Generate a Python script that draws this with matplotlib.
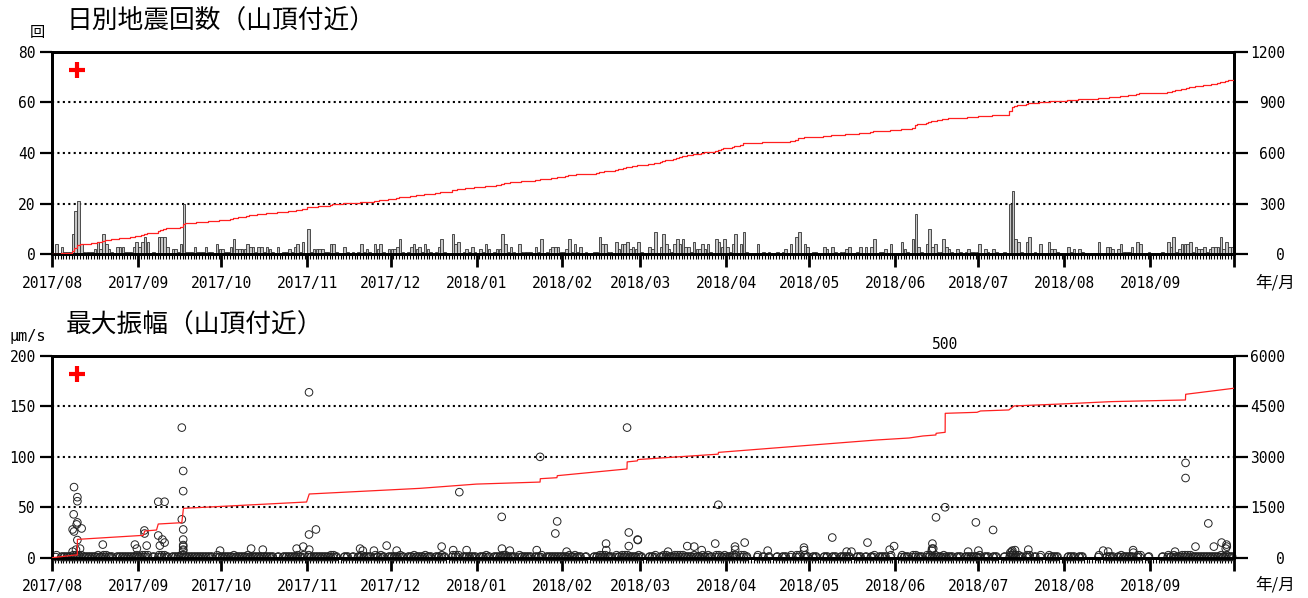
import numpy as np
import pandas as pd
import matplotlib
matplotlib.use('Agg')
import matplotlib.pyplot as plt
import matplotlib.dates as mdates
from matplotlib.ticker import FuncFormatter

# ---------------- data ----------------
aug17 = [0,4,0,3,1,1,1,8,17,21, 4,1,1,1,1,2,5,2,8,4, 2,1,0,3,3,3,1,1,1,3, 5]
sep17 = [3,5,7,5,0,1,0,7,7,7, 3,0,2,2,1,4,20,1,1,1, 3,1,1,1,3,1,1,0,4,2]
oct17 = [2,1,1,3,6,2,2,2,2,4, 3,3,1,3,3,1,3,2,1,0, 3,0,1,1,2,1,3,4,1,5, 0]
nov17 = [10,1,2,2,2,2,1,1,4,4, 1,0,0,3,1,0,1,0,1,4, 1,2,1,0,4,2,4,1,0,2]
dec17 = [2,2,3,6,1,0,1,3,4,2, 3,1,4,2,1,0,1,3,6,1, 0,0,8,4,5,0,1,2,1,3, 1]
jan18 = [0,2,1,4,2,0,1,2,2,8, 4,1,3,1,0,4,1,1,1,1, 0,3,1,6,0,1,2,3,3,3, 1]
feb18 = [1,2,6,1,4,1,3,0,1,0, 0,1,1,7,4,4,1,1,0,5, 2,4,4,5,2,3,2,5]
mar18 = [1,0,0,3,2,9,0,3,8,4, 2,1,4,6,4,6,3,3,1,5, 2,2,4,2,4,1,0,6,5,3, 6]
apr18 = [3,1,4,8,0,4,9,1,0,0, 0,4,0,1,0,1,0,0,1,0, 1,2,0,4,0,7,9,0,4,3]
may18 = [0,1,1,0,0,3,2,0,3,1, 0,1,1,2,3,0,0,1,3,0, 3,0,3,6,0,1,1,2,0,4, 0]
jun18 = [0,0,5,2,1,0,6,16,3,1, 0,4,10,3,4,1,1,6,3,2, 1,0,2,1,0,1,2,1,1,1]
jul18 = [4,0,2,1,0,2,1,0,0,1, 0,20,25,6,5,1,0,5,7,0, 1,0,4,0,0,5,2,2,1,0, 0]
aug18 = [0,3,1,2,0,2,1,0,0,0, 0,0,5,0,0,3,3,2,0,2, 4,1,1,1,3,0,5,4,0,0, 1]
sep18 = [0,0,0,0,1,0,5,3,7,1, 2,4,4,4,5,1,3,2,2,3, 1,2,3,3,3,7,2,5,3,3]

daily_counts = (aug17 + sep17 + oct17 + nov17 + dec17 + jan18 + feb18 +
                mar18 + apr18 + may18 + jun18 + jul18 + aug18 + sep18)
days = pd.date_range('2017-08-01', '2018-09-30', freq='D')

# maximum amplitude of individual events (um/s)
ev_time = ['2017-08-08 08:00','2017-08-08 17:00','2017-08-08 20:00','2017-08-08 20:00',
           '2017-08-08 08:00','2017-08-09 13:00','2017-08-09 19:00','2017-08-10 01:00',
           '2017-08-10 01:00','2017-08-10 01:00','2017-08-10 01:00','2017-08-11 00:00',
           '2017-08-11 14:00','2017-08-19 05:00','2017-08-30 19:00','2017-08-31 12:00',
           '2017-09-03 05:00','2017-09-03 07:00','2017-09-04 01:00','2017-09-08 05:00',
           '2017-09-10 12:00','2017-09-08 05:00','2017-09-08 19:00','2017-09-09 17:00',
           '2017-09-10 12:00','2017-09-16 17:00','2017-09-17 05:00','2017-09-17 05:00',
           '2017-09-16 17:00','2017-09-17 05:00','2017-09-17 05:00','2017-09-17 05:00',
           '2017-09-17 05:00','2017-09-17 05:00','2017-09-17 05:00','2017-09-30 12:00',
           '2017-10-11 17:00','2017-10-15 22:00','2017-10-28 03:00','2017-10-30 12:00',
           '2017-11-01 14:00','2017-11-01 14:00','2017-11-01 16:00','2017-11-04 02:00',
           '2017-11-20 00:00','2017-11-21 00:00','2017-11-25 00:00','2017-11-29 14:00',
           '2017-12-03 05:00','2017-12-19 10:00','2017-12-23 14:00','2017-12-25 19:00',
           '2017-12-28 10:00','2018-01-10 02:00','2018-01-10 04:00','2018-01-13 00:00',
           '2018-01-22 17:00','2018-01-23 22:00','2018-01-29 10:00','2018-01-30 02:00',
           '2018-02-02 12:00','2018-02-16 17:00','2018-02-16 19:00','2018-02-24 07:00',
           '2018-02-24 22:00','2018-02-24 22:00','2018-02-28 02:00','2018-02-28 04:00',
           '2018-03-11 02:00','2018-03-18 00:00','2018-03-20 12:00','2018-03-23 05:00',
           '2018-03-28 02:00','2018-03-29 05:00','2018-04-04 05:00','2018-04-04 07:00',
           '2018-04-07 17:00','2018-04-16 00:00','2018-04-29 02:00','2018-04-29 04:00',
           '2018-05-09 07:00','2018-05-14 12:00','2018-05-16 05:00','2018-05-22 00:00',
           '2018-05-30 00:00','2018-05-31 14:00','2018-06-14 05:00','2018-06-14 07:00',
           '2018-06-14 17:00','2018-06-14 10:00','2018-06-15 17:00','2018-06-19 00:00',
           '2018-06-19 00:00','2018-06-27 07:00','2018-06-30 02:00','2018-07-01 00:00',
           '2018-07-06 07:00','2018-07-12 12:00','2018-07-13 00:00','2018-07-13 06:00',
           '2018-07-13 12:00','2018-07-14 05:00','2018-07-19 00:00','2018-08-15 00:00',
           '2018-08-16 19:00','2018-08-25 19:00','2018-08-25 21:00','2018-09-09 22:00',
           '2018-09-13 17:00','2018-09-13 17:00','2018-09-17 07:00','2018-09-21 22:00',
           '2018-09-23 22:00','2018-09-26 17:00','2018-09-28 12:00','2018-09-28 14:00',
           '2018-09-28 05:00']
ev_amp = [6, 43, 70, 26,
          28, 8, 33, 60,
          56, 35, 17.5, 9,
          29, 13, 13, 9,
          27, 24, 12, 55.5,
          55.5, 22, 12, 18,
          15, 129, 86, 66,
          38, 28, 18, 12.5,
          11, 8, 7, 7,
          9, 8, 9, 11,
          164, 23, 8, 28,
          9, 7, 7, 12,
          7, 11, 7.5, 65,
          7.5, 40.5, 9, 7,
          7.5, 100, 24, 36,
          6, 14, 7.5, 129,
          25, 11.5, 18, 17.5,
          6, 11.5, 11, 7.5,
          14, 52.5, 11, 8,
          15, 7, 10, 7.5,
          20, 6, 6, 15,
          8, 11.5, 7, 9,
          9, 14, 40, 50,
          500, 6, 35, 7,
          27.5, 5, 6, 7,
          4, 7.5, 8, 7,
          6, 7.5, 5, 6,
          94, 79, 11, 34,
          11, 15, 13, 11,
          9]

# cumulative maximum amplitude (right axis of lower panel)
cum_time = ['2017-08-01 00:00','2017-08-09 05:00','2017-08-10 01:00','2017-08-10 01:00',
            '2017-09-02 20:00','2017-09-03 08:00','2017-09-07 14:00','2017-09-08 05:00',
            '2017-09-16 17:00','2017-09-17 07:00','2017-10-31 17:00','2017-11-01 16:00',
            '2017-12-11 14:00','2018-01-01 00:00','2018-01-23 22:00','2018-01-24 00:00',
            '2018-01-30 00:00','2018-01-30 03:00','2018-02-24 06:00','2018-02-24 08:00',
            '2018-02-28 00:00','2018-02-28 04:00','2018-03-29 04:00','2018-03-29 06:00',
            '2018-05-25 08:00','2018-06-06 00:00','2018-06-11 00:00','2018-06-15 16:00',
            '2018-06-15 18:00','2018-06-19 00:00','2018-06-19 01:00','2018-06-30 12:00',
            '2018-07-01 18:00','2018-07-12 00:00','2018-07-13 20:00','2018-07-31 00:00',
            '2018-08-18 00:00','2018-09-13 16:00','2018-09-13 18:00','2018-09-30 23:59']
cum_amp = [0, 80, 80, 545,
           665, 794, 823, 1002,
           1042, 1468, 1657, 1895,
           2063, 2190, 2250, 2350,
           2380, 2440, 2640, 2850,
           2880, 2920, 3080, 3133,
           3502, 3561, 3621, 3651,
           3700, 3730, 4295, 4325,
           4365, 4395, 4514, 4573,
           4643, 4692, 4861, 5039]

# ---------------- figure ----------------
FIG_W, FIG_H = 1308, 598
fig = plt.figure(figsize=(FIG_W/100, FIG_H/100), dpi=100)
L, R = 52.3, 1233.5
ax1 = fig.add_axes([L/FIG_W, 1-254.3/FIG_H, (R-L)/FIG_W, (254.3-51.7)/FIG_H])
ax3 = fig.add_axes([L/FIG_W, 1-557.7/FIG_H, (R-L)/FIG_W, (557.7-356.0)/FIG_H])

mono = 'DejaVu Sans Mono'
jp = ['Noto Sans CJK JP', 'DejaVu Sans']
xmin = pd.Timestamp('2017-08-01')
xmax = pd.Timestamp('2018-10-01')
dotted = (0, (1, 1.6))
last_label = mdates.date2num(xmax)

def month_fmt(x, pos):
    if abs(x - last_label) < 0.5:
        return ''
    return mdates.num2date(x).strftime('%Y/%m')

def style_axes(ax, axr, ylim, yticks, rlim, rticks):
    ax.set_xlim(xmin, xmax)
    ax.set_ylim(*ylim)
    ax.set_yticks(yticks)
    axr.set_ylim(*rlim)
    axr.set_yticks(rticks)
    ax.xaxis.set_major_locator(mdates.MonthLocator())
    ax.xaxis.set_minor_locator(mdates.DayLocator())
    ax.xaxis.set_major_formatter(FuncFormatter(month_fmt))
    ax.tick_params(axis='x', which='major', direction='out', length=9.5, width=2,
                   pad=6, labelsize=10.5)
    ax.tick_params(axis='x', which='minor', direction='out', length=3.6, width=0.8)
    ax.tick_params(axis='y', direction='out', length=9, width=1.6, pad=3, labelsize=10.5)
    axr.tick_params(axis='y', direction='out', length=10, width=1.6, pad=27, labelsize=10.5)
    for lab in ax.get_xticklabels() + ax.get_yticklabels() + axr.get_yticklabels():
        lab.set_fontfamily(mono)
    for lab in axr.get_yticklabels():
        lab.set_horizontalalignment('right')
    for a in (ax, axr):
        for s in a.spines.values():
            s.set_linewidth(2)
    for v in yticks[1:-1]:
        ax.axhline(v, color='k', lw=1.5, ls=dotted, zorder=0.5)

# ---- top panel: daily counts ----
ax1.bar(days, daily_counts, width=0.92, align='edge', color='#c8c8c8',
        edgecolor='#333333', linewidth=0.6, zorder=2)
ax2 = ax1.twinx()
cum_counts = np.cumsum(daily_counts)
cx = [xmin] + list(days + pd.Timedelta(days=1))
cy = [0] + list(cum_counts)
ax2.plot(cx, cy, drawstyle='steps-pre', color='#ff2020', lw=0.9, zorder=3)
style_axes(ax1, ax2, (0, 80), [0, 20, 40, 60, 80], (0, 1200), [0, 300, 600, 900, 1200])
ax2.plot([pd.Timestamp('2017-08-10')], [1092], marker='+', color='red', ms=11, mew=3)

# ---- bottom panel: maximum amplitude ----
ev_t = pd.to_datetime(ev_time)
ev_a = np.array(ev_amp, dtype=float)
on = ev_a <= 200
# small-event band: circles for each day with earthquakes
band_days = days[np.array(daily_counts) > 0]
band_amp = np.where(np.array(daily_counts)[np.array(daily_counts) > 0] >= 4, 2.5, 1.2)
ax3.scatter(band_days + pd.Timedelta(hours=12), band_amp, s=30, facecolors='none',
            edgecolors='#222222', linewidths=0.7, zorder=3, clip_on=False)
ax3.scatter(band_days + pd.Timedelta(hours=6), np.full(len(band_days), 0.6), s=30,
            facecolors='none', edgecolors='#222222', linewidths=0.7, zorder=3, clip_on=False)
ax3.scatter(ev_t[on], ev_a[on], s=30, facecolors='none', edgecolors='#222222',
            linewidths=0.7, zorder=3, clip_on=False)
for t, a in zip(ev_t[~on], ev_a[~on]):
    ax3.annotate(f'{a:.0f}', xy=(t, 1.0), xycoords=('data', 'axes fraction'),
                 xytext=(0, 3), textcoords='offset points', ha='center', va='bottom',
                 fontsize=10.5, fontfamily=mono)
ax4 = ax3.twinx()
ax4.plot(pd.to_datetime(cum_time), cum_amp, color='#ff2020', lw=0.9, zorder=3)
style_axes(ax3, ax4, (0, 200), [0, 50, 100, 150, 200], (0, 6000), [0, 1500, 3000, 4500, 6000])
ax4.plot([pd.Timestamp('2017-08-10')], [5475], marker='+', color='red', ms=11, mew=3)

# ---- texts ----
fig.text(66/FIG_W, 1-22/FIG_H, '日別地震回数（山頂付近）', fontsize=18.5, family=jp,
         ha='left', va='center')
fig.text(66/FIG_W, 1-326/FIG_H, '最大振幅（山頂付近）', fontsize=18.5, family=jp,
         ha='left', va='center')
fig.text(37/FIG_W, 1-32/FIG_H, '回', fontsize=11, family=jp, ha='center', va='center')
fig.text(28/FIG_W, 1-336/FIG_H, 'μm/s', fontsize=11, family=mono, ha='center', va='center')
fig.text(1275/FIG_W, 1-283/FIG_H, '年/月', fontsize=12, family=jp, ha='center', va='center')
fig.text(1275/FIG_W, 1-585/FIG_H, '年/月', fontsize=12, family=jp, ha='center', va='center')

fig.savefig('out.png', dpi=100)
